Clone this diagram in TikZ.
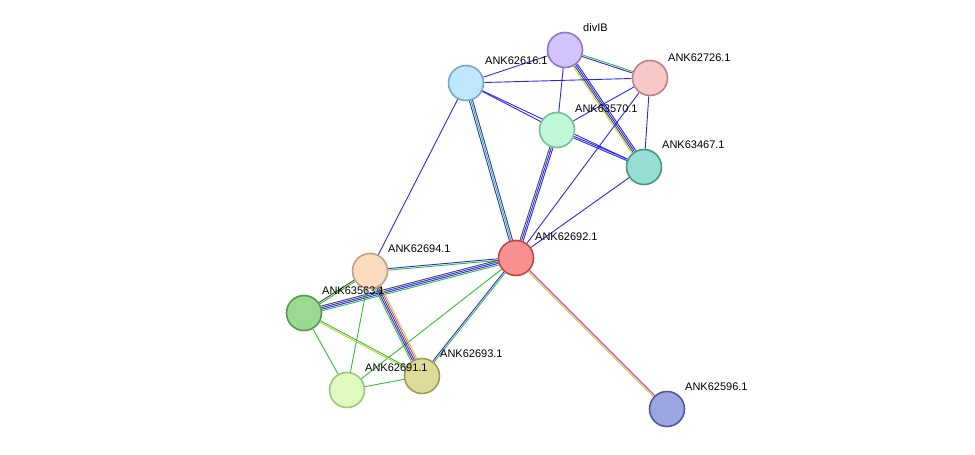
\documentclass[tikz,border=0pt]{standalone}
\usepackage{fontspec}
\setmainfont{Liberation Sans}
\usetikzlibrary{backgrounds}
\tikzset{prot/.style={circle,draw,line width=1.6pt,minimum size=35pt,inner sep=0pt},
  lbl/.style={anchor=west,inner sep=0pt,font=\fontsize{11}{12}\selectfont}}
\definecolor{cgreen}{RGB}{50,190,50}
\definecolor{cyellow}{RGB}{200,210,40}
\definecolor{cmag}{RGB}{210,60,210}
\definecolor{cblue}{RGB}{40,40,240}
\definecolor{cblack}{RGB}{70,70,70}
% parallel coloured links between two nodes
\newcommand\link[4]{%
  \pgfmathanglebetweenpoints{\pgfpointanchor{#1}{center}}{\pgfpointanchor{#2}{center}}%
  \let\ang\pgfmathresult
  \foreach \c [count=\i] in {#4} {
    \pgfmathsetmacro\off{(\i-(#3+1)/2)*1.6}
    \draw[\c,line width=0.9pt,transform canvas={shift={(\ang+90:\off pt)}}] (#1) -- (#2);
  }}
\begin{document}
\begin{tikzpicture}[x=1pt,y=-1pt]
\useasboundingbox (0,0) rectangle (975,455);
\node[prot,draw={rgb,255:red,140;green,120;blue,200},fill={rgb,255:red,210;green,195;blue,250}] (divIB) at (565,50) {};
\node[prot,draw={rgb,255:red,190;green,130;blue,130},fill={rgb,255:red,246;green,200;blue,200}] (n62726) at (650,78) {};
\node[prot,draw={rgb,255:red,120;green,165;blue,200},fill={rgb,255:red,190;green,230;blue,252}] (n62616) at (466,83) {};
\node[prot,draw={rgb,255:red,120;green,190;blue,150},fill={rgb,255:red,190;green,248;blue,215}] (n63570) at (557,130) {};
\node[prot,draw={rgb,255:red,70;green,150;blue,140},fill={rgb,255:red,150;green,222;blue,212}] (n63467) at (644,167) {};
\node[prot,draw={rgb,255:red,190;green,70;blue,70},fill={rgb,255:red,250;green,145;blue,145}] (n62692) at (516,258) {};
\node[prot,draw={rgb,255:red,195;green,160;blue,130},fill={rgb,255:red,252;green,220;blue,190}] (n62694) at (370,271) {};
\node[prot,draw={rgb,255:red,90;green,150;blue,80},fill={rgb,255:red,155;green,218;blue,145}] (n63563) at (304,313) {};
\node[prot,draw={rgb,255:red,160;green,155;blue,80},fill={rgb,255:red,222;green,220;blue,155}] (n62693) at (422,376) {};
\node[prot,draw={rgb,255:red,160;green,195;blue,130},fill={rgb,255:red,222;green,250;blue,190}] (n62691) at (347,390) {};
\node[prot,draw={rgb,255:red,80;green,90;blue,150},fill={rgb,255:red,155;green,165;blue,225}] (n62596) at (667,409) {};
% labels
\node[lbl] at ([shift={(18,-22)}]divIB.center) {divIB};
\node[lbl] at ([shift={(18,-20)}]n62726.center) {ANK62726.1};
\node[lbl] at ([shift={(19,-22)}]n62616.center) {ANK62616.1};
\node[lbl] at ([shift={(18,-21)}]n63570.center) {ANK63570.1};
\node[lbl] at ([shift={(18,-22)}]n63467.center) {ANK63467.1};
\node[lbl] at ([shift={(19,-21)}]n62692.center) {ANK62692.1};
\node[lbl] at ([shift={(18,-22)}]n62694.center) {ANK62694.1};
\node[lbl] at ([shift={(18,-22)}]n63563.center) {ANK63563.1};
\node[lbl] at ([shift={(18,-22)}]n62693.center) {ANK62693.1};
\node[lbl] at ([shift={(18,-22)}]n62691.center) {ANK62691.1};
\node[lbl] at ([shift={(18,-22)}]n62596.center) {ANK62596.1};
\begin{scope}[on background layer]
\link{divIB}{n62726}{2}{cblue,cgreen}
\link{divIB}{n62616}{1}{cblue}
\link{divIB}{n63570}{1}{cblue}
\link{divIB}{n63467}{4}{cyellow,cblack,cblue,cblue}
\link{n62616}{n62726}{1}{cblue}
\link{n62616}{n63570}{1}{cblue}
\link{n62616}{n63467}{1}{cblue}
\link{n62616}{n62692}{3}{cblue,cgreen,cblue}
\link{n62616}{n62694}{1}{cblue}
\link{n62726}{n63570}{1}{cblue}
\link{n62726}{n63467}{1}{cblue}
\link{n62726}{n62692}{1}{cblue}
\link{n63570}{n63467}{2}{cblue,cblue}
\link{n63570}{n62692}{3}{cblack,cblue,cblue}
\link{n63467}{n62692}{1}{cblue}
\link{n62692}{n62596}{2}{cyellow,cmag}
\link{n62692}{n62694}{2}{cblue,cgreen}
\link{n62692}{n63563}{4}{cblack,cblue,cblue,cgreen}
\link{n62692}{n62693}{2}{cblue,cgreen}
\link{n62692}{n62691}{1}{cgreen}
\link{n62694}{n63563}{2}{cblack,cgreen}
\link{n62694}{n62693}{5}{cgreen,cblue,cblack,cmag,cyellow}
\link{n62694}{n62691}{1}{cgreen}
\link{n63563}{n62693}{2}{cyellow,cgreen}
\link{n63563}{n62691}{1}{cgreen}
\link{n62691}{n62693}{1}{cgreen}
\end{scope}
\end{tikzpicture}
\end{document}
